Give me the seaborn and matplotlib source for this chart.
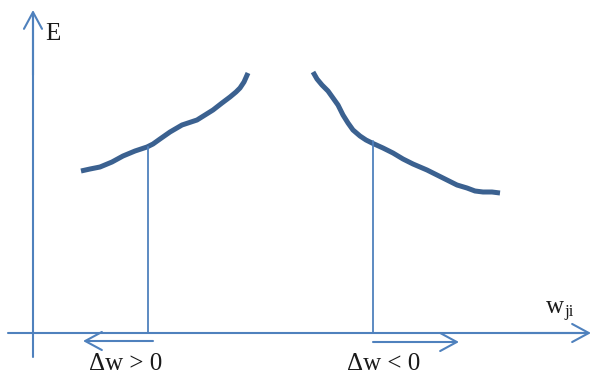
import matplotlib
matplotlib.use("Agg")
import matplotlib.pyplot as plt
import seaborn as sns
import pandas as pd

# ---- data (figure units: x to the right, E upward; frame 592 x 375) ----
left_w = [81, 90, 100, 112, 123, 135, 147, 153, 160, 170, 182, 197, 205, 213, 222, 230, 236, 240, 244, 248]
left_E = [204, 206, 208, 213, 219, 224, 228, 231, 236, 243, 250, 255, 260, 265, 272, 278, 283, 287, 293, 302]
right_w = [313, 317, 322, 328, 333, 338, 343, 348, 353, 360, 366, 372, 383, 393, 403, 413, 420, 427, 437, 447, 457, 467, 475, 483, 492, 500]
right_E = [303, 296, 290, 284, 277, 270, 260, 252, 245, 239, 235, 232, 227, 222, 216, 211, 208, 205, 200, 195, 190, 187, 184, 183, 183, 182]

drop_w = [148, 373]          # positions of the vertical guide lines
drop_E = [228, 234]          # curve height at those positions
axis_E = 42                  # height of the w axis
labels = ["\u0394w > 0", "\u0394w < 0"]

curve_color = "#3b6190"
axis_color = "#4f81bd"

sns.set_theme(style="white")
plt.rcParams["font.family"] = ["Liberation Serif", "DejaVu Serif"]

fig = plt.figure(figsize=(5.92, 3.75), dpi=100)
ax = fig.add_axes([0, 0, 1, 1])
ax.set_xlim(0, 592)
ax.set_ylim(0, 375)
ax.axis("off")

df_l = pd.DataFrame({"w": left_w, "E": left_E})
df_r = pd.DataFrame({"w": right_w, "E": right_E})
for df in (df_l, df_r):
    sns.lineplot(data=df, x="w", y="E", ax=ax, color=curve_color, lw=3.6,
                 solid_capstyle="butt", solid_joinstyle="round", sort=False)

arrow_kw = dict(arrowstyle="->,head_length=1.2,head_width=0.65", lw=1.5,
                color=axis_color, shrinkA=0, shrinkB=0, mutation_scale=10)

# E axis (vertical) with arrow
ax.plot([33, 33], [18, 360], color=axis_color, lw=1.5)
ax.annotate("", xy=(33, 365), xytext=(33, 300), arrowprops=arrow_kw)
# w axis (horizontal) with arrow
ax.plot([8, 585], [axis_E, axis_E], color=axis_color, lw=1.5)
ax.annotate("", xy=(591, axis_E), xytext=(520, axis_E), arrowprops=arrow_kw)

# guide lines
for x, y in zip(drop_w, drop_E):
    ax.plot([x, x], [axis_E, y], color=axis_color, lw=1.3)

# direction arrows
ax.annotate("", xy=(83, 34), xytext=(153, 34), arrowprops=arrow_kw)
ax.annotate("", xy=(459, 33), xytext=(373, 33), arrowprops=arrow_kw)

txt = dict(color="#1a1a1a", fontsize=18)
ax.text(45, 335, "E", ha="left", va="baseline", **txt)
ax.text(546, 62, "w", ha="left", va="baseline", **txt)
ax.text(564, 59, "ji", ha="left", va="baseline", color="#1a1a1a", fontsize=12)
ax.text(126, 5, labels[0], ha="center", va="baseline", **txt)
ax.text(384, 5, labels[1], ha="center", va="baseline", **txt)

fig.savefig("out.png", dpi=100, facecolor="white")
